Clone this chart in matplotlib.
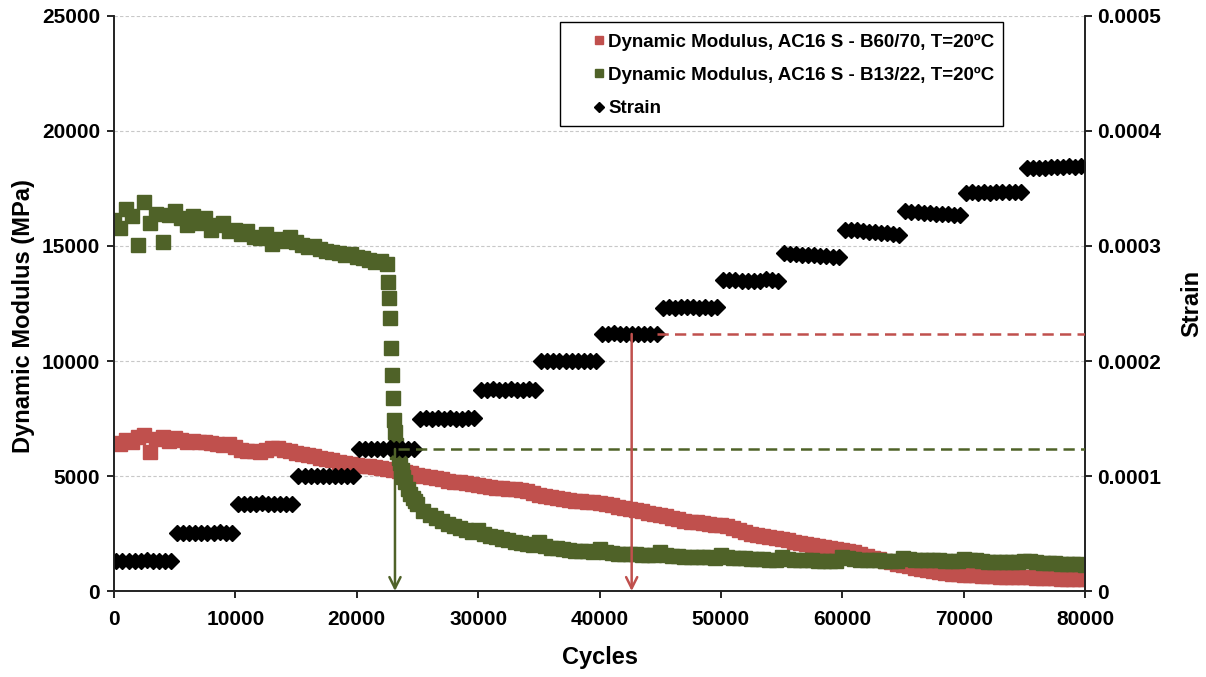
import numpy as np
import matplotlib
matplotlib.use("Agg")
import matplotlib.pyplot as plt
from matplotlib.patches import Rectangle

plt.rcParams['font.family'] = ['Liberation Sans', 'DejaVu Sans']
plt.rcParams['font.weight'] = 'bold'

RED = '#C0504D'
GREEN = '#4F6228'

# Dynamic modulus, AC16 S - B60/70 (MPa), one reading every 500 cycles from 0 to 80000
red_cycles = np.arange(0, 80001, 500)
red_modulus = [
    6430, 6380, 6550, 6470, 6700, 6780, 6050, 6600, 6680, 6520,
    6650, 6560, 6500, 6540, 6470, 6480, 6420, 6380, 6350, 6400,
    6250, 6130, 6100, 6080, 6050, 6150, 6220, 6210, 6150, 6080,
    6000, 5950, 5910, 5850, 5790, 5740, 5680, 5620, 5580, 5530,
    5480, 5450, 5420, 5390, 5350, 5310, 5270, 5230, 5190, 5130,
    5060, 5000, 4950, 4900, 4860, 4800, 4760, 4720, 4680, 4640,
    4610, 4570, 4540, 4500, 4470, 4440, 4420, 4400, 4360, 4280,
    4180, 4130, 4080, 4040, 4000, 3960, 3930, 3900, 3880, 3850,
    3830, 3780, 3720, 3660, 3610, 3560, 3510, 3460, 3410, 3350,
    3300, 3250, 3180, 3120, 3060, 3020, 2980, 2950, 2920, 2890,
    2860, 2820, 2750, 2660, 2580, 2500, 2440, 2400, 2350, 2300,
    2250, 2200, 2150, 2100, 2050, 2010, 1970, 1930, 1880, 1830,
    1790, 1740, 1680, 1600, 1520, 1450, 1380, 1310, 1250, 1190,
    1130, 1070, 1010, 950, 900, 860, 820, 790, 760, 730,
    700, 690, 680, 670, 650, 640, 630, 630, 620, 610,
    600, 590, 580, 570, 560, 550, 540, 530, 530, 520,
    520,
]

# Dynamic modulus, AC16 S - B13/22 (MPa)
green_cycles = [
    0, 500, 1000, 1500, 2000, 2500, 3000, 3500, 4000, 4500,
    5000, 5500, 6000, 6500, 7000, 7500, 8000, 8500, 9000, 9500,
    10000, 10500, 11000, 11500, 12000, 12500, 13000, 13500, 14000, 14500,
    15000, 15500, 16000, 16500, 17000, 17500, 18000, 18500, 19000, 19500,
    20000, 20500, 21000, 21500, 22000, 22500,
    22570, 22660, 22740, 22820, 22900, 22980, 23070, 23150, 23230, 23330,
    23450, 23560, 23700, 23850, 24000, 24200, 24400, 24600, 24800,
    25000, 25500, 26000, 26500, 27000, 27500, 28000, 28500, 29000, 29500,
    30000, 30500, 31000, 31500, 32000, 32500, 33000, 33500, 34000, 34500,
    35000, 35500, 36000, 36500, 37000, 37500, 38000, 38500, 39000, 39500,
    40000, 40500, 41000, 41500, 42000, 42500, 43000, 43500, 44000, 44500,
    45000, 45500, 46000, 46500, 47000, 47500, 48000, 48500, 49000, 49500,
    50000, 50500, 51000, 51500, 52000, 52500, 53000, 53500, 54000, 54500,
    55000, 55500, 56000, 56500, 57000, 57500, 58000, 58500, 59000, 59500,
    60000, 60500, 61000, 61500, 62000, 62500, 63000, 63500, 64000, 64500,
    65000, 65500, 66000, 66500, 67000, 67500, 68000, 68500, 69000, 69500,
    70000, 70500, 71000, 71500, 72000, 72500, 73000, 73500, 74000, 74500,
    75000, 75500, 76000, 76500, 77000, 77500, 78000, 78500, 79000, 79500,
    80000,
]
green_modulus = [
    16130, 15800, 16600, 16300, 15050, 16910, 16000, 16400, 15170, 16350,
    16500, 16200, 15900, 16300, 16000, 16200, 15700, 15900, 16000, 15650,
    15700, 15500, 15650, 15400, 15350, 15500, 15100, 15300, 15200, 15400,
    15170, 15050, 14950, 15000, 14850, 14800, 14740, 14700, 14600, 14650,
    14500, 14480, 14400, 14300, 14350, 14200,
    13430, 12740, 11870, 10570, 9390, 8390, 7430, 6910, 6350, 6050,
    5800, 5550, 5250, 4950, 4720, 4450, 4220, 4050, 3920,
    3800, 3500, 3320, 3180, 3050, 2930, 2830, 2740, 2650, 2580,
    2650, 2480, 2400, 2350, 2280, 2220, 2150, 2100, 2060, 2010,
    2130, 1940, 1880, 1850, 1820, 1790, 1760, 1740, 1720, 1700,
    1830, 1680, 1650, 1630, 1610, 1600, 1590, 1580, 1560, 1550,
    1680, 1550, 1520, 1510, 1500, 1490, 1480, 1470, 1460, 1450,
    1580, 1470, 1450, 1430, 1420, 1400, 1390, 1380, 1370, 1360,
    1470, 1380, 1360, 1350, 1340, 1330, 1320, 1310, 1310, 1300,
    1480, 1420, 1380, 1360, 1350, 1340, 1330, 1320, 1310, 1300,
    1420, 1380, 1360, 1350, 1340, 1340, 1330, 1320, 1320, 1310,
    1400, 1360, 1330, 1300, 1280, 1270, 1260, 1260, 1250, 1250,
    1320, 1290, 1250, 1230, 1210, 1200, 1190, 1180, 1170, 1160,
    1130,
]

# Strain, one block per 5000-cycle loading step, readings every 500 cycles
step_starts = np.arange(0, 80000, 5000)
step_offsets = np.arange(200, 5000, 500)
strain_steps = [
    [0.0000262, 0.0000258, 0.0000264, 0.0000260, 0.0000263, 0.0000266, 0.0000259, 0.0000262, 0.0000261, 0.0000263],
    [0.0000505, 0.0000502, 0.0000508, 0.0000504, 0.0000507, 0.0000503, 0.0000506, 0.0000509, 0.0000504, 0.0000505],
    [0.0000756, 0.0000760, 0.0000755, 0.0000758, 0.0000761, 0.0000757, 0.0000759, 0.0000756, 0.0000760, 0.0000758],
    [0.0001002, 0.0000998, 0.0001003, 0.0001000, 0.0001004, 0.0000999, 0.0001002, 0.0000998, 0.0001001, 0.0001000],
    [0.0001233, 0.0001237, 0.0001232, 0.0001238, 0.0001234, 0.0001240, 0.0001233, 0.0001236, 0.0001235, 0.0001232],
    [0.0001498, 0.0001502, 0.0001497, 0.0001503, 0.0001499, 0.0001504, 0.0001500, 0.0001498, 0.0001502, 0.0001501],
    [0.0001752, 0.0001748, 0.0001755, 0.0001750, 0.0001747, 0.0001753, 0.0001749, 0.0001751, 0.0001754, 0.0001750],
    [0.0002002, 0.0001998, 0.0002003, 0.0001999, 0.0002001, 0.0001997, 0.0002002, 0.0002000, 0.0001998, 0.0002001],
    [0.0002238, 0.0002233, 0.0002240, 0.0002236, 0.0002232, 0.0002237, 0.0002234, 0.0002231, 0.0002235, 0.0002233],
    [0.0002465, 0.0002470, 0.0002463, 0.0002468, 0.0002466, 0.0002469, 0.0002462, 0.0002467, 0.0002464, 0.0002466],
    [0.0002705, 0.0002700, 0.0002707, 0.0002698, 0.0002694, 0.0002699, 0.0002696, 0.0002712, 0.0002700, 0.0002697],
    [0.0002935, 0.0002930, 0.0002928, 0.0002925, 0.0002921, 0.0002918, 0.0002915, 0.0002912, 0.0002908, 0.0002905],
    [0.0003142, 0.0003138, 0.0003135, 0.0003130, 0.0003126, 0.0003121, 0.0003117, 0.0003112, 0.0003108, 0.0003098],
    [0.0003302, 0.0003297, 0.0003292, 0.0003290, 0.0003285, 0.0003282, 0.0003278, 0.0003275, 0.0003272, 0.0003270],
    [0.0003462, 0.0003466, 0.0003465, 0.0003468, 0.0003463, 0.0003467, 0.0003470, 0.0003468, 0.0003466, 0.0003469],
    [0.0003675, 0.0003678, 0.0003682, 0.0003680, 0.0003685, 0.0003683, 0.0003688, 0.0003692, 0.0003690, 0.0003695],
]

# Failure of each mix: cycle count, strain step it falls in, start of the dashed strain level
green_fail_cycle = 23150
green_fail_step = 4
green_dash_start = 23400
red_fail_cycle = 42650
red_fail_step = 8
red_dash_start = 44700

x_ticks = [0, 10000, 20000, 30000, 40000, 50000, 60000, 70000, 80000]
y_ticks = [0, 5000, 10000, 15000, 20000, 25000]
strain_ticks = [0, 0.0001, 0.0002, 0.0003, 0.0004, 0.0005]
strain_labels = ['0', '0.0001', '0.0002', '0.0003', '0.0004', '0.0005']

fig = plt.figure(figsize=(12.06, 6.77), dpi=100)
ax = fig.add_axes([0.0945, 0.127, 0.8052, 0.8494])
ax2 = ax.twinx()

h_red, = ax.plot(red_cycles, red_modulus, ls='none', marker='s', ms=9.5,
                 color=RED, mec=RED, label='Dynamic Modulus, AC16 S - B60/70, T=20ºC')
h_green, = ax.plot(green_cycles, green_modulus, ls='none', marker='s', ms=9.5,
                   color=GREEN, mec=GREEN, label='Dynamic Modulus, AC16 S - B13/22, T=20ºC')

strain_x = np.concatenate([s + step_offsets for s in step_starts])
strain_y = np.concatenate(strain_steps)
h_strain, = ax2.plot(strain_x, strain_y, ls='none', marker='D', ms=8,
                     color='black', mec='black', label='Strain')

# strain level at failure, dashed to the right edge, arrow down to the cycle axis
for cyc, step, dash_x, col in [(green_fail_cycle, green_fail_step, green_dash_start, GREEN),
                               (red_fail_cycle, red_fail_step, red_dash_start, RED)]:
    level = float(np.mean(strain_steps[step]))
    ax2.plot([dash_x, 80000], [level, level], ls=(0, (4.5, 2.5)),
             color=col, lw=1.8, zorder=5)
    ax2.annotate('', xy=(cyc, 0), xytext=(cyc, level),
                 arrowprops=dict(arrowstyle='->,head_length=0.8,head_width=0.4',
                                 color=col, lw=1.8, shrinkA=0, shrinkB=0),
                 zorder=5)

ax.set_xlim(0, 80000)
ax.set_ylim(0, 25000)
ax2.set_ylim(0, 0.0005)
ax.set_xticks(x_ticks)
ax.set_yticks(y_ticks)
ax2.set_yticks(strain_ticks)
ax2.set_yticklabels(strain_labels)

ax.grid(axis='y', ls=(0, (3, 2)), color='#C8C8C8', lw=0.8)
ax.set_axisbelow(True)
for a in (ax, ax2):
    a.spines['top'].set_visible(False)
    for s in ('left', 'right', 'bottom'):
        a.spines[s].set_linewidth(1.2)
        a.spines[s].set_color('#222222')
ax.tick_params(axis='both', direction='out', length=5, width=1.2, labelsize=15)
ax2.tick_params(axis='y', direction='out', length=5, width=1.2, labelsize=15)
ax.tick_params(axis='x', pad=9)
ax.tick_params(axis='y', pad=5)

ax.set_xlabel('Cycles', fontsize=17, fontweight='bold', labelpad=12)
ax.set_ylabel('Dynamic Modulus (MPa)', fontsize=17, fontweight='bold', labelpad=4)
ax2.set_ylabel('Strain', fontsize=17, fontweight='bold', labelpad=14)
ax.yaxis.set_label_coords(-0.081, 0.478)

# legend box drawn separately so the entries can sit with a wide left margin
ax2.add_patch(Rectangle((0.4593, 0.8087), 0.4562, 0.1809, transform=ax2.transAxes,
                        facecolor='white', edgecolor='black', lw=1.0, zorder=6,
                        clip_on=False))
leg = ax2.legend(handles=[h_red, h_green, h_strain], loc='upper left',
                 bbox_to_anchor=(0.4933, 0.9694), fontsize=13.5, frameon=False,
                 handlelength=0.65, handletextpad=0.15, borderpad=0,
                 labelspacing=0.86, borderaxespad=0, markerscale=0.65)
leg.set_zorder(7)

fig.savefig('out.png', dpi=100)
